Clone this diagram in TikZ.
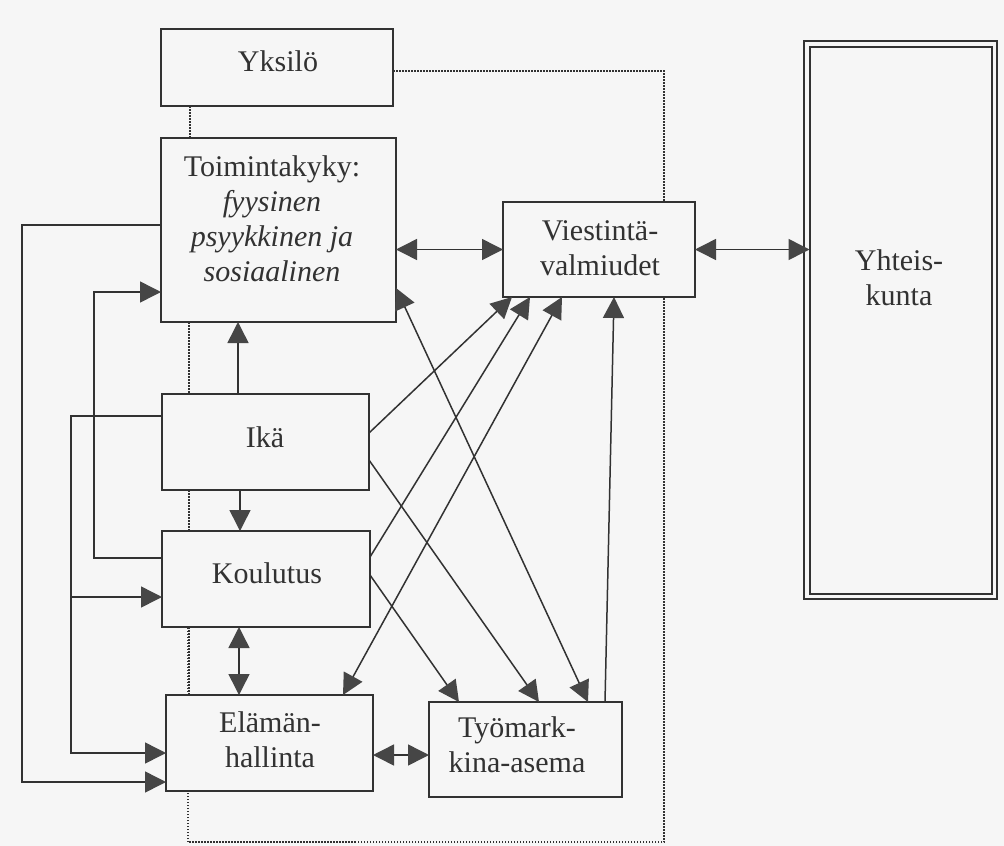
\documentclass[tikz,border=0pt]{standalone}
\usepackage{fontspec}
\setmainfont{Liberation Serif}
\usetikzlibrary{arrows.meta}
\definecolor{paper}{RGB}{246,246,246}
\definecolor{ink}{RGB}{50,50,50}
\definecolor{head}{RGB}{70,70,70}
\begin{document}
\begin{tikzpicture}[x=1pt,y=-1pt,
  box/.style={draw=ink,line width=1.9pt,fill=paper,rectangle,inner sep=0pt,outer sep=0pt},
  txt/.style={align=center,inner sep=0pt,text=ink,font=\fontsize{30}{35}\selectfont},
  tip/.tip={Triangle[length=21pt,width=21pt,color=head]},
  arr/.style={draw=ink,line width=1.5pt,-tip},
  dbl/.style={draw=ink,line width=1.5pt,tip-tip},
  dots/.style={draw=ink,line width=1.6pt,dash pattern=on 1.5pt off 1.5pt}]
\fill[paper] (0,0) rectangle (1004,846);
\useasboundingbox (0,0) rectangle (1004,846);
% boxes (positions only)
\node[box,minimum width=232pt,minimum height=77pt] (yks) at (277,67.5) {};
\node[box,minimum width=235pt,minimum height=184pt] (toim) at (278.5,230) {};
\node[box,minimum width=207pt,minimum height=96pt] (ika) at (265.5,442) {};
\node[box,minimum width=208pt,minimum height=96pt] (kou) at (266,579) {};
\node[box,minimum width=207pt,minimum height=96pt] (ela) at (269.5,743) {};
\node[box,minimum width=193pt,minimum height=95pt] (tyo) at (525.5,749.5) {};
\node[box,minimum width=192pt,minimum height=95pt] (vie) at (599,249.5) {};
\node[box,minimum width=193pt,minimum height=558pt,line width=2pt] (yht) at (900.5,320) {};
\node[box,minimum width=182pt,minimum height=547pt,line width=2pt] (yhtin) at (900.5,320) {};
% dotted boundary of the individual
\draw[dots] (yks.east |- 0,71) -- (664,71) -- (664,842) -- (188,842) -- (188,627);
\draw[dots] (yks.south -| 190,0) -- (toim.north -| 190,0);
\draw[dots] (toim.south -| 189,0) -- (ika.north -| 189,0);
\draw[dots] (ika.south -| 189,0) -- (kou.north -| 189,0);
\draw[dots] (kou.south -| 189,0) -- (ela.north -| 189,0);
% redraw boxes on top of dotted line
\node[box,minimum width=232pt,minimum height=77pt] at (yks) {};
\node[box,minimum width=235pt,minimum height=184pt] at (toim) {};
\node[box,minimum width=207pt,minimum height=96pt] at (ika) {};
\node[box,minimum width=208pt,minimum height=96pt] at (kou) {};
\node[box,minimum width=207pt,minimum height=96pt] at (ela) {};
\node[box,minimum width=193pt,minimum height=95pt] at (tyo) {};
\node[box,minimum width=192pt,minimum height=95pt] at (vie) {};
% texts
\node[txt] (yksT) at (278,61) {Yksilö};
\node[txt] (toimT) at (272,219) {Toimintakyky:\\\itshape fyysinen\\\itshape psyykkinen ja\\\itshape sosiaalinen};
\node[txt] (ikaT) at (265,437) {Ikä};
\node[txt] (kouT) at (267,573) {Koulutus};
\node[txt] (elaT) at (270,740) {Elämän-\\hallinta};
\node[txt] (tyoT) at (517,745) {Työmark-\\kina-asema};
\node[txt] (vieT) at (600,248) {Viestintä-\\valmiudet};
\node[txt] (yhtT) at (899,278) {Yhteis-\\kunta};
% horizontal / vertical connectors
\draw[dbl] (toim.east |- vie.west) -- (vie.west);
\draw[dbl] (vie.east) -- (yhtin.west |- vie.east);
\draw[arr] (ika.north -| 238,0) -- (toim.south -| 238,0);
\draw[arr] (ika.south -| 240,0) -- (kou.north -| 240,0);
\draw[dbl] (kou.south -| 239,0) -- (ela.north -| 239,0);
\draw[dbl] (ela.east |- 0,755) -- (tyo.west |- 0,755);
% left-hand routed connectors
\draw[arr] (toim.west |- 0,225) -- ++(-139,0) |- (ela.west |- 0,782);
\draw[arr] (kou.west |- 0,558) -- ++(-68,0) |- (toim.west |- 0,292);
\draw[arr] (ika.west |- 0,416) -- ++(-91,0) |- (ela.west |- 0,753);
\coordinate (br) at (71,597);
\draw[arr] (br) -- (kou.west |- br);
% diagonal connectors
\draw[dbl] (toim.east |- 0,288) -- (tyo.north -| 588,0);
\draw[arr] (ika.east |- 0,433) -- (vie.south -| 512,0);
\draw[arr] (ika.east |- 0,460) -- (tyo.north -| 539,0);
\draw[arr] (kou.east |- 0,557) -- (vie.south -| 530,0);
\draw[arr] (kou.east |- 0,575) -- (tyo.north -| 459,0);
\draw[dbl] (ela.north -| 343,0) -- (vie.south -| 562,0);
\draw[arr] (tyo.north -| 605,0) -- (vie.south -| 614,0);
\end{tikzpicture}
\end{document}
